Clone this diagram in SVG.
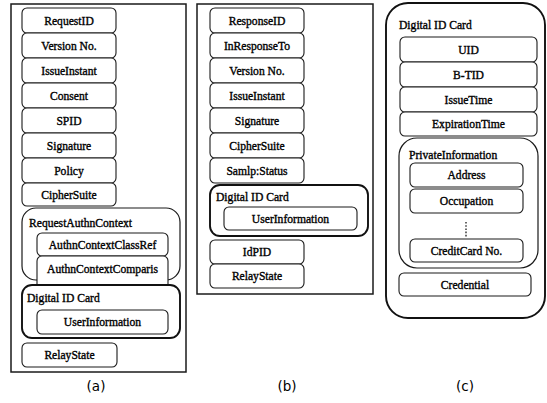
<svg xmlns="http://www.w3.org/2000/svg" width="547" height="403" viewBox="0 0 547 403">
  <style>
    .frame { fill: #fff; stroke: #1a1a1a; stroke-width: 1.5; }
    .box { fill: #fff; stroke: #1a1a1a; stroke-width: 1.1; }
    .card { fill: #fff; stroke: #111; stroke-width: 1.9; }
    .grp { fill: #fff; stroke: #1a1a1a; stroke-width: 1.2; }
    .t { font-family: 'Liberation Serif', 'DejaVu Serif', serif; font-size: 11.6px; fill: #000; stroke: #000; stroke-width: 0.35; }
    .c { text-anchor: middle; }
    .cap { font-family: 'DejaVu Sans', 'Liberation Sans', sans-serif; font-size: 13.5px; fill: #000; text-anchor: middle; }
  </style>

  <!-- (a) request message -->
  <g id="panel-a">
    <rect class="frame" x="11" y="4" width="175" height="368"/>
    <g id="a-requestid"><rect class="box" x="22" y="8" width="94" height="25" rx="5"/><text class="t c" x="69" y="24.5">RequestID</text></g>
    <g id="a-version"><rect class="box" x="22" y="33" width="94" height="25" rx="5"/><text class="t c" x="69" y="49.5">Version No.</text></g>
    <g id="a-issueinstant"><rect class="box" x="22" y="58" width="94" height="25" rx="5"/><text class="t c" x="69" y="74.5">IssueInstant</text></g>
    <g id="a-consent"><rect class="box" x="22" y="83" width="94" height="25" rx="5"/><text class="t c" x="69" y="99.5">Consent</text></g>
    <g id="a-spid"><rect class="box" x="22" y="108" width="94" height="25" rx="5"/><text class="t c" x="69" y="124.5">SPID</text></g>
    <g id="a-signature"><rect class="box" x="22" y="133" width="94" height="25" rx="5"/><text class="t c" x="69" y="149.5">Signature</text></g>
    <g id="a-policy"><rect class="box" x="22" y="158" width="94" height="25" rx="5"/><text class="t c" x="69" y="174.5">Policy</text></g>
    <g id="a-ciphersuite"><rect class="box" x="22" y="183" width="94" height="23" rx="5"/><text class="t c" x="69" y="198.5">CipherSuite</text></g>

    <g id="a-requestauthncontext">
      <rect class="grp" x="22" y="208" width="158" height="72" rx="14"/>
      <text class="t" x="29" y="227">RequestAuthnContext</text>
      <g id="a-classref"><rect class="box" x="37" y="233" width="131" height="23" rx="5"/><text class="t c" x="102.5" y="248.5">AuthnContextClassRef</text></g>
      <g id="a-comparison"><rect class="box" x="37" y="256" width="131" height="36" rx="5"/><text class="t c" x="102.5" y="273">AuthnContextComparis</text></g>
    </g>

    <g id="a-digitalidcard">
      <rect class="card" x="22" y="285" width="158" height="53" rx="10"/>
      <text class="t" x="27" y="302">Digital ID Card</text>
      <g id="a-userinformation"><rect class="box" x="37" y="310" width="131" height="24" rx="5"/><text class="t c" x="102.5" y="326">UserInformation</text></g>
    </g>

    <g id="a-relaystate"><rect class="box" x="22" y="343" width="95" height="24" rx="5"/><text class="t c" x="69.5" y="359">RelayState</text></g>
  </g>

  <!-- (b) response message -->
  <g id="panel-b">
    <rect class="frame" x="197" y="4" width="176" height="290"/>
    <g id="b-responseid"><rect class="box" x="210" y="8" width="94" height="25" rx="5"/><text class="t c" x="257" y="24.5">ResponseID</text></g>
    <g id="b-inresponseto"><rect class="box" x="210" y="33" width="94" height="25" rx="5"/><text class="t c" x="257" y="49.5">InResponseTo</text></g>
    <g id="b-version"><rect class="box" x="210" y="58" width="94" height="25" rx="5"/><text class="t c" x="257" y="74.5">Version No.</text></g>
    <g id="b-issueinstant"><rect class="box" x="210" y="83" width="94" height="25" rx="5"/><text class="t c" x="257" y="99.5">IssueInstant</text></g>
    <g id="b-signature"><rect class="box" x="210" y="108" width="94" height="25" rx="5"/><text class="t c" x="257" y="124.5">Signature</text></g>
    <g id="b-ciphersuite"><rect class="box" x="210" y="133" width="94" height="25" rx="5"/><text class="t c" x="257" y="149.5">CipherSuite</text></g>
    <g id="b-status"><rect class="box" x="210" y="158" width="94" height="25" rx="5"/><text class="t c" x="257" y="174.5">Samlp:Status</text></g>

    <g id="b-digitalidcard">
      <rect class="card" x="210" y="185" width="158" height="51" rx="10"/>
      <text class="t" x="216" y="201">Digital ID Card</text>
      <g id="b-userinformation"><rect class="box" x="224" y="207" width="133" height="23" rx="5"/><text class="t c" x="290.5" y="222.5">UserInformation</text></g>
    </g>

    <g id="b-idpid"><rect class="box" x="210" y="240" width="94" height="24" rx="5"/><text class="t c" x="257" y="256">IdPID</text></g>
    <g id="b-relaystate"><rect class="box" x="210" y="264" width="94" height="24" rx="5"/><text class="t c" x="257" y="280">RelayState</text></g>
  </g>

  <!-- (c) digital ID card -->
  <g id="panel-c">
    <rect class="card" x="386" y="3" width="159" height="315" rx="22"/>
    <text class="t" x="399" y="29">Digital ID Card</text>
    <g id="c-uid"><rect class="box" x="400" y="37" width="137" height="25" rx="5"/><text class="t c" x="468.5" y="53.5">UID</text></g>
    <g id="c-btid"><rect class="box" x="400" y="62" width="137" height="25" rx="5"/><text class="t c" x="468.5" y="78.5">B-TID</text></g>
    <g id="c-issuetime"><rect class="box" x="400" y="87" width="137" height="25" rx="5"/><text class="t c" x="468.5" y="103.5">IssueTime</text></g>
    <g id="c-expirationtime"><rect class="box" x="400" y="112" width="137" height="24" rx="5"/><text class="t c" x="468.5" y="128">ExpirationTime</text></g>

    <g id="c-privateinformation">
      <rect class="grp" x="399" y="138" width="139" height="130" rx="18"/>
      <text class="t" x="409" y="159">PrivateInformation</text>
      <g id="c-address"><rect class="box" x="410" y="163" width="113" height="24" rx="5"/><text class="t c" x="466.5" y="179">Address</text></g>
      <g id="c-occupation"><rect class="box" x="410" y="189" width="113" height="24" rx="5"/><text class="t c" x="466.5" y="205">Occupation</text></g>
      <line x1="466" y1="222" x2="466" y2="238" stroke="#1a1a1a" stroke-width="1.3" stroke-dasharray="1.6 1.6"/>
      <g id="c-creditcard"><rect class="box" x="410" y="239" width="113" height="23" rx="5"/><text class="t c" x="466.5" y="254.5">CreditCard No.</text></g>
    </g>

    <g id="c-credential"><rect class="box" x="399" y="273" width="132" height="23" rx="5"/><text class="t c" x="465" y="288.5">Credential</text></g>
  </g>

  <!-- no connectors between the fields -->
  <g id="connectors"/>

  <g id="captions">
    <text class="cap" x="96" y="391">(a)</text>
    <text class="cap" x="287" y="391">(b)</text>
    <text class="cap" x="465" y="391">(c)</text>
  </g>
</svg>
